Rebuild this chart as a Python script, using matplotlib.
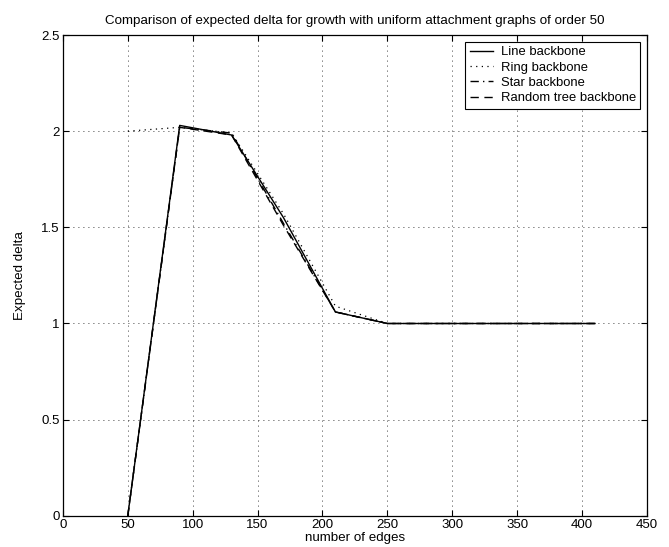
import matplotlib
matplotlib.use("Agg")
import matplotlib.pyplot as plt

plt.rcParams['font.family'] = ['Liberation Sans', 'DejaVu Sans']

edges = [50, 90, 130, 170, 210, 250, 290, 330, 370, 410]
line_backbone = [0.0, 2.03, 1.98, 1.55, 1.06, 1.0, 1.0, 1.0, 1.0, 1.0]
ring_backbone = [2.0, 2.02, 1.99, 1.57, 1.09, 1.0, 1.0, 1.0, 1.0, 1.0]
star_backbone = [0.0, 2.02, 1.99, 1.52, 1.06, 1.0, 1.0, 1.0, 1.0, 1.0]
random_tree_backbone = [0.0, 2.02, 1.98, 1.51, 1.06, 1.0, 1.0, 1.0, 1.0, 1.0]

series_labels = ["Line backbone", "Ring backbone", "Star backbone", "Random tree backbone"]
x_ticks = [0, 50, 100, 150, 200, 250, 300, 350, 400, 450]
y_ticks = [0, 0.5, 1, 1.5, 2, 2.5]
y_tick_labels = ["0", "0.5", "1", "1.5", "2", "2.5"]

fig = plt.figure(figsize=(6.69, 5.47), dpi=100)
ax = fig.add_axes([0.094, 0.057, 0.873, 0.879])

ax.plot(edges, line_backbone, color='black', linestyle='-', linewidth=1.0, label=series_labels[0])
ax.plot(edges, ring_backbone, color='black', linestyle=(0, (1, 3.5)), linewidth=0.9, label=series_labels[1])
ax.plot(edges, star_backbone, color='black', linestyle=(0, (6, 3, 1, 3)), linewidth=1.0, label=series_labels[2])
ax.plot(edges, random_tree_backbone, color='black', linestyle=(0, (6, 4)), linewidth=1.0, label=series_labels[3])

ax.set_xlim(0, 450)
ax.set_ylim(0, 2.5)
ax.set_xticks(x_ticks)
ax.set_yticks(y_ticks)
ax.set_yticklabels(y_tick_labels)
ax.tick_params(direction='in', top=True, right=True, length=4, width=0.8, labelsize=9.5, pad=2.5)
ax.grid(True, color='black', linestyle=(0, (1, 5)), linewidth=0.6)
for spine in ax.spines.values():
    spine.set_linewidth(0.9)

ax.set_title("Comparison of expected delta for growth with uniform attachment graphs of order 50",
             fontsize=9.6, pad=8)
ax.set_ylabel("Expected delta", fontsize=9.6, labelpad=11)
fig.text(0.5 * (0.094 + 0.967), 3 / 547, "number of edges", fontsize=9.6,
         ha='center', va='bottom')

leg = ax.legend(loc='upper right', fontsize=9.4, frameon=True, fancybox=False,
                borderpad=0.35, labelspacing=0.25, handlelength=1.75, handletextpad=0.6,
                borderaxespad=0.5)
leg.get_frame().set_edgecolor('black')
leg.get_frame().set_linewidth(0.8)
leg.get_frame().set_alpha(1.0)

fig.savefig("out.png", dpi=100, facecolor='white')
